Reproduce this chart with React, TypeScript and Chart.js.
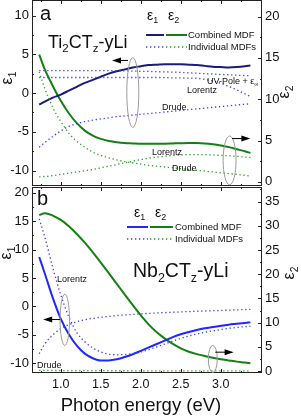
import React, { useEffect, useRef } from "react";
import { Chart, registerables } from "chart.js";
Chart.register(...registerables);

const FF = '"Liberation Sans", Arial, Helvetica, sans-serif';

// ---------- data ----------
const energy = [0.73, 0.8, 0.9, 1.0, 1.1, 1.2, 1.3, 1.4, 1.5, 1.6, 1.7, 1.8, 1.9, 2.0, 2.1, 2.2, 2.3, 2.4, 2.5, 2.6, 2.7, 2.8, 2.9, 3.0, 3.1, 3.2, 3.3, 3.37];

// panel a: Ti2CTz-yLi
const tiEps1Combined = [-1.5, -1.1, -0.6, -0.2, 0.3, 0.8, 1.3, 1.7, 2.1, 2.5, 2.8, 3.05, 3.3, 3.45, 3.6, 3.65, 3.7, 3.7, 3.7, 3.65, 3.6, 3.5, 3.4, 3.35, 3.3, 3.35, 3.45, 3.55];
const tiEps1UVPole = [2.9, 2.9, 2.9, 2.9, 2.9, 2.9, 2.9, 2.9, 2.9, 2.88, 2.87, 2.85, 2.83, 2.8, 2.78, 2.75, 2.72, 2.7, 2.65, 2.6, 2.55, 2.5, 2.45, 2.4, 2.35, 2.3, 2.25, 2.2];
const tiEps1Lorentz = [2.0, 2.0, 2.0, 2.0, 2.0, 2.0, 2.0, 2.0, 2.0, 2.0, 2.0, 2.0, 2.0, 2.0, 2.0, 2.0, 1.98, 1.96, 1.94, 1.92, 1.9, 1.75, 1.55, 1.25, 0.85, 0.4, -0.1, -0.45];
const tiEps1Drude = [-7.0, -6.4, -5.6, -4.9, -4.3, -3.95, -3.7, -3.5, -3.35, -3.2, -3.05, -2.95, -2.85, -2.75, -2.65, -2.55, -2.45, -2.35, -2.25, -2.15, -2.05, -1.95, -1.85, -1.75, -1.65, -1.55, -1.45, -1.4];
const tiEps2Combined = [15.4, 13.6, 11.6, 9.8, 8.3, 7.1, 6.2, 5.6, 5.2, 4.95, 4.8, 4.7, 4.65, 4.6, 4.6, 4.6, 4.62, 4.65, 4.68, 4.7, 4.7, 4.65, 4.55, 4.4, 4.2, 3.95, 3.7, 3.5];
const tiEps2Lorentz = [0.6, 0.65, 0.75, 0.9, 1.05, 1.2, 1.35, 1.5, 1.7, 1.9, 2.1, 2.3, 2.5, 2.7, 2.85, 3.0, 3.1, 3.2, 3.25, 3.3, 3.3, 3.3, 3.25, 3.2, 3.15, 3.1, 3.0, 2.95];
const tiEps2Drude = [13.3, 11.3, 9.0, 7.3, 5.9, 4.9, 4.2, 3.6, 3.2, 2.9, 2.65, 2.45, 2.3, 2.15, 2.0, 1.9, 1.8, 1.7, 1.6, 1.5, 1.4, 1.3, 1.2, 1.1, 1.0, 0.9, 0.8, 0.7];

// panel b: Nb2CTz-yLi
const nbEps1Combined = [8.7, 5.8, 1.5, -2.2, -4.9, -6.9, -8.3, -9.1, -9.5, -9.5, -9.3, -8.9, -8.4, -7.8, -7.2, -6.6, -6.0, -5.4, -4.9, -4.5, -4.15, -3.85, -3.6, -3.4, -3.2, -3.05, -2.9, -2.8];
const nbEps1Lorentz = [15.4, 12.2, 6.8, 2.0, -1.8, -4.6, -6.2, -7.3, -8.0, -8.4, -8.5, -8.45, -8.3, -8.0, -7.6, -7.1, -6.6, -6.1, -5.6, -5.2, -4.85, -4.55, -4.3, -4.05, -3.85, -3.7, -3.55, -3.5];
const nbEps1Drude = [-8.3, -6.6, -5.0, -3.9, -3.2, -2.7, -2.35, -2.1, -1.9, -1.75, -1.6, -1.5, -1.4, -1.3, -1.22, -1.15, -1.08, -1.02, -0.96, -0.9, -0.85, -0.8, -0.75, -0.7, -0.65, -0.6, -0.55, -0.5];
const nbEps2Combined = [32.2, 32.6, 32.1, 31.2, 29.9, 28.3, 26.5, 24.5, 22.4, 20.2, 18.0, 15.8, 13.6, 11.5, 9.6, 8.0, 6.7, 5.6, 4.7, 4.0, 3.5, 3.1, 2.75, 2.45, 2.2, 1.95, 1.75, 1.6];
const nbEps2Drude = [0.15, 0.14, 0.12, 0.11, 0.1, 0.09, 0.08, 0.08, 0.07, 0.07, 0.06, 0.06, 0.06, 0.05, 0.05, 0.05, 0.05, 0.04, 0.04, 0.04, 0.04, 0.04, 0.03, 0.03, 0.03, 0.03, 0.03, 0.03];

// ticks
const xTicks = [1.0, 1.5, 2.0, 2.5, 3.0];
const xMinor = [0.75, 1.25, 1.75, 2.25, 2.75, 3.25];
const aEps1Ticks = [-10, -5, 0, 5, 10];
const aEps1Minor = [-7.5, -2.5, 2.5, 7.5];
const aEps2Ticks = [0, 5, 10, 15, 20];
const aEps2Minor = [2.5, 7.5, 12.5, 17.5];
const bEps1Ticks = [-10, -5, 0, 5, 10, 15, 20];
const bEps1Minor = [-7.5, -2.5, 2.5, 7.5, 12.5, 17.5];
const bEps2Ticks = [0, 5, 10, 15, 20, 25, 30, 35];
const bEps2Minor = [2.5, 7.5, 12.5, 17.5, 22.5, 27.5, 32.5, 37.5];

// ---------- styles ----------
const NAVY = "#1b1b7d";
const BLUE = "#1e28ff";
const BLUE_DOT = "#3a3aff";
const GREEN = "#138013";
const GREEN_DOT = "#2a992a";
const DOT = [1.3, 2.7];

type Part = [string, boolean];

function drawRich(ctx: CanvasRenderingContext2D, parts: Part[], x: number, base: number, size: number, align: string = "left", color = "#111") {
  const subSize = size * 0.64;
  const widths = parts.map(([t, s]) => {
    ctx.font = `${s ? subSize : size}px ${FF}`;
    return ctx.measureText(t).width;
  });
  const total = widths.reduce((a, b) => a + b, 0);
  let cx = align === "center" ? x - total / 2 : x;
  ctx.fillStyle = color;
  ctx.textAlign = "left";
  ctx.textBaseline = "alphabetic";
  parts.forEach(([t, s], i) => {
    ctx.font = `${s ? subSize : size}px ${FF}`;
    ctx.fillText(t, cx, s ? base + size * 0.24 : base);
    cx += widths[i];
  });
}

function line(ys: number[], axis: string, color: string, dotted: boolean, width: number) {
  return {
    data: energy.map((x, i) => ({ x, y: ys[i] })),
    yAxisID: axis,
    borderColor: color,
    borderWidth: width,
    borderDash: dotted ? DOT : [],
    pointRadius: 0,
    cubicInterpolationMode: "monotone",
    fill: false,
  };
}

function yScale(min: number, max: number, ticks: number[], pos: string, width: number) {
  return {
    type: "linear",
    position: pos,
    min,
    max,
    afterBuildTicks: (s: any) => {
      s.ticks = ticks.map((v) => ({ value: v }));
    },
    afterFit: (s: any) => {
      s.width = width;
      s.paddingTop = 0;
      s.paddingBottom = 0;
    },
    grid: { display: false, drawTicks: false },
    border: { display: false },
    ticks: {
      font: { family: FF, size: 13 },
      color: "#111",
      padding: 3,
      callback: (v: any) => String(v),
    },
  };
}

interface Deco {
  minor: { x: number[]; y: number[]; y2: number[] };
  major: { x: number[]; y: number[]; y2: number[] };
  texts: { parts: Part[]; x: number; base: number; size: number }[];
  legend: { y: number; x0: number; x1: number; x2: number; x3: number; c1: string; c2: string; dotted: boolean; label: string; tx: number }[];
  ellipses: { cx: number; cy: number; rx: number; ry: number; axis: string }[];
  arrows: { y: number; from: number; to: number; axis: string }[];
  titles: { parts: Part[]; x: number; y: number; size: number }[];
}

function decoPlugin(id: string, d: Deco) {
  return {
    id,
    afterDraw(chart: any) {
      const ctx: CanvasRenderingContext2D = chart.ctx;
      const ca = chart.chartArea;
      const sx = chart.scales.x;
      ctx.save();
      // frame
      ctx.strokeStyle = "#222";
      ctx.lineWidth = 1;
      ctx.setLineDash([]);
      ctx.strokeRect(ca.left + 0.5, ca.top + 0.5, ca.right - ca.left - 1, ca.bottom - ca.top - 1);
      // inward ticks
      const tickSet = (vals: number[], len: number) => {
        vals.forEach((v) => {
          const px = Math.round(sx.getPixelForValue(v)) + 0.5;
          ctx.beginPath();
          ctx.moveTo(px, ca.bottom);
          ctx.lineTo(px, ca.bottom - len);
          ctx.moveTo(px, ca.top);
          ctx.lineTo(px, ca.top + len);
          ctx.stroke();
        });
      };
      tickSet(d.major.x, 4);
      tickSet(d.minor.x, 2);
      const yTicks = (axis: string, vals: number[], len: number) => {
        const s = chart.scales[axis];
        vals.forEach((v) => {
          const py = Math.round(s.getPixelForValue(v)) + 0.5;
          ctx.beginPath();
          if (axis === "y") {
            ctx.moveTo(ca.left, py);
            ctx.lineTo(ca.left + len, py);
          } else {
            ctx.moveTo(ca.right, py);
            ctx.lineTo(ca.right - len, py);
          }
          ctx.stroke();
        });
      };
      yTicks("y", d.major.y, 4);
      yTicks("y", d.minor.y, 2);
      yTicks("y2", d.major.y2, 4);
      yTicks("y2", d.minor.y2, 2);

      // ellipses
      ctx.strokeStyle = "#9a9a9a";
      ctx.lineWidth = 1;
      d.ellipses.forEach((e) => {
        const s = chart.scales[e.axis];
        const cx = sx.getPixelForValue(e.cx);
        const cy = s.getPixelForValue(e.cy);
        const rx = Math.abs(sx.getPixelForValue(e.cx + e.rx) - cx);
        const ry = Math.abs(s.getPixelForValue(e.cy + e.ry) - cy);
        ctx.beginPath();
        ctx.ellipse(cx, cy, rx, ry, 0, 0, Math.PI * 2);
        ctx.stroke();
      });
      // arrows
      ctx.strokeStyle = "#000";
      ctx.fillStyle = "#000";
      d.arrows.forEach((a) => {
        const s = chart.scales[a.axis];
        const py = s.getPixelForValue(a.y);
        const x0 = sx.getPixelForValue(a.from);
        const x1 = sx.getPixelForValue(a.to);
        const dir = Math.sign(x1 - x0);
        ctx.lineWidth = 1;
        ctx.beginPath();
        ctx.moveTo(x0, py);
        ctx.lineTo(x1 - dir * 6, py);
        ctx.stroke();
        ctx.beginPath();
        ctx.moveTo(x1, py);
        ctx.lineTo(x1 - dir * 9, py - 3);
        ctx.lineTo(x1 - dir * 9, py + 3);
        ctx.closePath();
        ctx.fill();
      });
      // legend
      d.legend.forEach((l) => {
        ctx.lineWidth = l.dotted ? 1.3 : 2;
        ctx.setLineDash(l.dotted ? DOT : []);
        ctx.strokeStyle = l.dotted ? BLUE_DOT : l.c1;
        ctx.beginPath();
        ctx.moveTo(l.x0, l.y);
        ctx.lineTo(l.x1, l.y);
        ctx.stroke();
        ctx.strokeStyle = l.dotted ? GREEN_DOT : l.c2;
        ctx.beginPath();
        ctx.moveTo(l.x2, l.y);
        ctx.lineTo(l.x3, l.y);
        ctx.stroke();
        ctx.setLineDash([]);
        drawRich(ctx, [[l.label, false]], l.tx, l.y + 3.4, 9.5);
      });
      // texts
      d.texts.forEach((t) => drawRich(ctx, t.parts, t.x, t.base, t.size));
      // rotated axis titles
      d.titles.forEach((t) => {
        ctx.save();
        ctx.translate(t.x, t.y);
        ctx.rotate(-Math.PI / 2);
        drawRich(ctx, t.parts, 0, t.size * 0.26, t.size, "center");
        ctx.restore();
      });
      ctx.restore();
    },
  };
}

const eps1: Part[] = [["ε", false], ["1", true]];
const eps2: Part[] = [["ε", false], ["2", true]];

function configA() {
  const deco: Deco = {
    major: { x: xTicks, y: aEps1Ticks, y2: aEps2Ticks },
    minor: { x: xMinor, y: aEps1Minor, y2: aEps2Minor },
    texts: [
      { parts: [["a", false]], x: 40, base: 20, size: 20 },
      { parts: eps1, x: 147, base: 20, size: 14 },
      { parts: eps2, x: 168, base: 20, size: 14 },
      { parts: [["Ti", false], ["2", true], ["CT", false], ["z", true], ["-yLi", false]], x: 48, base: 48, size: 18 },
      { parts: [["UV-Pole + ε", false], ["∞", true]], x: 207, base: 84.3, size: 9 },
      { parts: [["Lorentz", false]], x: 187, base: 93.3, size: 9 },
      { parts: [["Drude", false]], x: 162, base: 110.3, size: 9 },
      { parts: [["Lorentz", false]], x: 152, base: 155.3, size: 9 },
      { parts: [["Drude", false]], x: 172, base: 171.3, size: 9 },
    ],
    legend: [
      { y: 35, x0: 146, x1: 164, x2: 166, x3: 187, c1: NAVY, c2: GREEN, dotted: false, label: "Combined MDF", tx: 188 },
      { y: 47, x0: 146, x1: 164, x2: 166, x3: 187, c1: BLUE_DOT, c2: GREEN_DOT, dotted: true, label: "Individual MDFs", tx: 188 },
    ],
    ellipses: [
      { cx: 1.9, cy: 0.06, rx: 0.075, ry: 4.5, axis: "y" },
      { cx: 3.11, cy: 2.6, rx: 0.081, ry: 2.95, axis: "y2" },
    ],
    arrows: [
      { y: 4.2, from: 1.84, to: 1.64, axis: "y" },
      { y: 5.24, from: 3.14, to: 3.37, axis: "y2" },
    ],
    titles: [
      { parts: eps1, x: 8, y: 78, size: 16 },
      { parts: eps2, x: 285, y: 92, size: 16 },
    ],
  };
  return {
    type: "line",
    data: {
      datasets: [
        line(tiEps1UVPole, "y", BLUE_DOT, true, 1.3),
        line(tiEps1Lorentz, "y", BLUE_DOT, true, 1.3),
        line(tiEps1Drude, "y", BLUE_DOT, true, 1.3),
        line(tiEps2Lorentz, "y2", GREEN_DOT, true, 1.3),
        line(tiEps2Drude, "y2", GREEN_DOT, true, 1.3),
        line(tiEps1Combined, "y", NAVY, false, 2),
        line(tiEps2Combined, "y2", GREEN, false, 2),
      ],
    },
    options: {
      responsive: false,
      animation: false,
      devicePixelRatio: 1,
      layout: { padding: { left: 0, right: 0, top: 0, bottom: 1 }, autoPadding: false },
      plugins: { legend: { display: false }, tooltip: { enabled: false } },
      scales: {
        x: { type: "linear", min: 0.64, max: 3.515, display: false },
        y: yScale(-12, 12, aEps1Ticks, "left", 32),
        y2: yScale(-0.5, 22, aEps2Ticks, "right", 39),
      },
    },
    plugins: [decoPlugin("decoA", deco)],
  };
}

function configB() {
  const deco: Deco = {
    major: { x: xTicks, y: bEps1Ticks, y2: bEps2Ticks },
    minor: { x: xMinor, y: bEps1Minor, y2: bEps2Minor },
    texts: [
      { parts: [["b", false]], x: 37, base: 19, size: 20 },
      { parts: eps1, x: 134, base: 31, size: 14 },
      { parts: eps2, x: 155, base: 31, size: 14 },
      { parts: [["Nb", false], ["2", true], ["CT", false], ["z", true], ["-yLi", false]], x: 133, base: 91, size: 19.5 },
      { parts: [["Lorentz", false]], x: 57, base: 96.3, size: 9 },
      { parts: [["Drude", false]], x: 37, base: 182.3, size: 9 },
    ],
    legend: [
      { y: 41, x0: 127, x1: 148, x2: 150, x3: 173, c1: BLUE, c2: GREEN, dotted: false, label: "Combined MDF", tx: 175 },
      { y: 53, x0: 127, x1: 148, x2: 150, x3: 173, c1: BLUE_DOT, c2: GREEN_DOT, dotted: true, label: "Individual MDFs", tx: 175 },
    ],
    ellipses: [
      { cx: 1.05, cy: -2.35, rx: 0.059, ry: 4.5, axis: "y" },
      { cx: 2.9, cy: 2.5, rx: 0.056, ry: 2.8, axis: "y2" },
    ],
    arrows: [
      { y: -2.3, from: 0.99, to: 0.78, axis: "y" },
      { y: 3.9, from: 2.93, to: 3.16, axis: "y2" },
    ],
    titles: [
      { parts: eps1, x: 7, y: 67, size: 16 },
      { parts: eps2, x: 290, y: 87, size: 16 },
    ],
  };
  const titlePlugin = {
    id: "xTitle",
    afterDraw(chart: any) {
      const ca = chart.chartArea;
      drawRich(chart.ctx, [["Photon energy (eV)", false]], (ca.left + ca.right) / 2 - 6, 225, 18.5, "center");
    },
  };
  return {
    type: "line",
    data: {
      datasets: [
        line(nbEps1Lorentz, "y", BLUE_DOT, true, 1.3),
        line(nbEps1Drude, "y", BLUE_DOT, true, 1.3),
        line(nbEps2Drude, "y2", GREEN_DOT, true, 1.3),
        line(nbEps1Combined, "y", BLUE, false, 2),
        line(nbEps2Combined, "y2", GREEN, false, 2),
      ],
    },
    options: {
      responsive: false,
      animation: false,
      devicePixelRatio: 1,
      layout: { padding: { left: 0, right: 0, top: 1, bottom: 0 }, autoPadding: false },
      plugins: { legend: { display: false }, tooltip: { enabled: false } },
      scales: {
        x: {
          type: "linear",
          min: 0.64,
          max: 3.515,
          afterBuildTicks: (s: any) => {
            s.ticks = xTicks.map((v) => ({ value: v }));
          },
          afterFit: (s: any) => {
            s.height = 43;
            s.paddingLeft = 0;
            s.paddingRight = 0;
          },
          grid: { display: false, drawTicks: false },
          border: { display: false },
          ticks: {
            font: { family: FF, size: 12.5 },
            color: "#111",
            padding: 4,
            maxRotation: 0,
            autoSkip: false,
            callback: (v: any) => Number(v).toFixed(1),
          },
        },
        y: yScale(-11.7, 21, bEps1Ticks, "left", 32),
        y2: yScale(-0.4, 38, bEps2Ticks, "right", 39),
      },
    },
    plugins: [decoPlugin("decoB", deco), titlePlugin],
  };
}

export default function App() {
  const refA = useRef<HTMLCanvasElement>(null);
  const refB = useRef<HTMLCanvasElement>(null);
  useEffect(() => {
    const a = new Chart(refA.current as HTMLCanvasElement, configA() as any);
    const b = new Chart(refB.current as HTMLCanvasElement, configB() as any);
    return () => {
      a.destroy();
      b.destroy();
    };
  }, []);
  return (
    <div style={{ position: "absolute", left: 0, top: 0, width: 301, height: 416, background: "#fff", overflow: "hidden" }}>
      <canvas ref={refA} width={301} height={187} style={{ position: "absolute", left: 0, top: 0, width: 301, height: 187 }} />
      <canvas ref={refB} width={301} height={230} style={{ position: "absolute", left: 0, top: 186, width: 301, height: 230 }} />
    </div>
  );
}
